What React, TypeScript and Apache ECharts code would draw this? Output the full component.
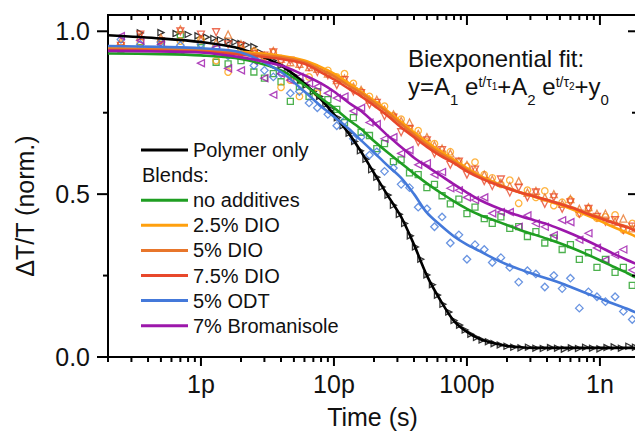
import React, { useEffect, useRef } from 'react';
import * as echarts from 'echarts';

const FONT = '"Liberation Sans", Arial, Helvetica, sans-serif';

// ---- axes (time in ps) ----
const X_MIN = 0.2;
const X_MAX = 1900;
const Y_MIN = 0;
const Y_MAX = 1.05;
const xMajorTicks = [1, 10, 100, 1000];
const xTickLabels = ['1p', '10p', '100p', '1n'];
const xMinorTicks = [0.2, 0.3, 0.4, 0.5, 0.6, 0.7, 0.8, 0.9, 2, 3, 4, 5, 6, 7, 8, 9, 20, 30, 40, 50, 60, 70, 80, 90, 200, 300, 400, 500, 600, 700, 800, 900];
const yMajorTicks = [0, 0.5, 1.0];
const yTickLabels = ['0.0', '0.5', '1.0'];
const yMinorTicks = [0.25, 0.75];

// ---- series ----
const seriesNames = ['Polymer only', 'no additives', '2.5% DIO', '5% DIO', '7.5% DIO', '5% ODT', '7% Bromanisole'];
const seriesColors = ['#000000', '#1f9e22', '#ffa00e', '#e8762b', '#e8482b', '#4479da', '#9c17ab'];
const seriesSymbols = ['triangle', 'rect', 'circle', 'triangle', 'triangle', 'diamond', 'triangle'];
const seriesSymbolRotate = [-90, 0, 0, 0, 180, 0, 90];
const seriesSymbolSize = [6, 6, 6.5, 7, 7, 7.5, 7];

// measured delays (ps)
const polymerDelays = [0.35, 0.5, 0.65, 0.8, 0.95, 1.1, 1.25, 1.4, 1.6, 1.8, 2.0, 2.2, 2.5, 2.8, 3.1, 3.5, 4, 4.5, 5, 5.6, 6.2, 7, 7.8, 8.7, 9.6, 10.6, 11.7, 13, 14.3, 15.8, 17.4, 19.2, 21, 23, 25.5, 28, 31, 34, 37.5, 41, 45, 50, 55, 60, 66, 73, 80, 88, 97, 107, 118, 130, 145, 160, 178, 200, 225, 255, 290, 330, 375, 425, 480, 540, 610, 690, 780, 880, 1000, 1130, 1280, 1450, 1650, 1850];
const polymerPoints = [0.995, 0.996, 0.993, 0.99, 0.986, 0.982, 0.978, 0.974, 0.97, 0.967, 0.962, 0.958, 0.953, 0.935, 0.925, 0.91, 0.895, 0.88, 0.865, 0.85, 0.835, 0.815, 0.8, 0.775, 0.76, 0.735, 0.71, 0.687, 0.662, 0.633, 0.607, 0.575, 0.552, 0.522, 0.497, 0.466, 0.438, 0.41, 0.372, 0.338, 0.3, 0.252, 0.222, 0.19, 0.162, 0.138, 0.112, 0.098, 0.083, 0.07, 0.06, 0.052, 0.047, 0.041, 0.037, 0.033, 0.03, 0.028, 0.03, 0.027, 0.026, 0.029, 0.027, 0.024, 0.028, 0.026, 0.03, 0.027, 0.025, 0.029, 0.031, 0.027, 0.033, 0.03];

const delays = [0.25, 0.35, 0.5, 0.7, 1.0, 1.3, 1.6, 2.0, 2.5, 3.0, 3.5, 4.0, 4.7, 5.5, 6.5, 7.5, 9, 10.5, 12, 14, 16, 18.5, 21, 24, 28, 32, 37, 43, 50, 57, 65, 75, 87, 100, 115, 135, 155, 180, 210, 245, 285, 330, 385, 450, 520, 600, 700, 820, 950, 1100, 1300, 1500, 1750];
const noAdditivesPoints = [0.945, 0.95, 0.96, 0.99, 0.95, 0.905, 0.9, 0.91, 0.875, 0.856, 0.87, 0.845, 0.785, 0.83, 0.8, 0.815, 0.79, 0.76, 0.72, 0.735, 0.69, 0.68, 0.64, 0.655, 0.6, 0.605, 0.565, 0.56, 0.52, 0.53, 0.495, 0.47, 0.485, 0.44, 0.46, 0.425, 0.41, 0.43, 0.395, 0.4, 0.37, 0.385, 0.35, 0.365, 0.33, 0.345, 0.3, 0.32, 0.275, 0.3, 0.26, 0.275, 0.22];
const dio25Points = [0.96, 0.966, 0.972, 0.97, 0.975, 0.91, 0.875, 0.945, 0.939, 0.92, 0.935, 0.828, 0.85, 0.8, 0.86, 0.81, 0.88, 0.86, 0.87, 0.84, 0.815, 0.8, 0.775, 0.77, 0.74, 0.73, 0.7, 0.695, 0.66, 0.655, 0.625, 0.63, 0.6, 0.585, 0.598, 0.56, 0.55, 0.53, 0.543, 0.472, 0.512, 0.49, 0.51, 0.465, 0.475, 0.482, 0.44, 0.455, 0.426, 0.43, 0.436, 0.39, 0.41];
const dio5Points = [0.97, 0.985, 0.98, 1.006, 0.975, 0.965, 0.99, 0.96, 0.94, 0.925, 0.94, 0.915, 0.905, 0.9, 0.89, 0.885, 0.87, 0.85, 0.855, 0.83, 0.82, 0.79, 0.79, 0.76, 0.745, 0.725, 0.72, 0.685, 0.675, 0.65, 0.64, 0.625, 0.6, 0.59, 0.575, 0.56, 0.545, 0.535, 0.525, 0.54, 0.505, 0.51, 0.49, 0.5, 0.47, 0.485, 0.455, 0.46, 0.44, 0.44, 0.415, 0.425, 0.395];
const dio75Points = [0.955, 0.99, 0.97, 1.0, 0.99, 0.997, 0.96, 0.955, 0.93, 0.925, 0.935, 0.905, 0.91, 0.895, 0.89, 0.875, 0.865, 0.835, 0.85, 0.815, 0.81, 0.775, 0.78, 0.74, 0.735, 0.69, 0.7, 0.66, 0.665, 0.625, 0.635, 0.59, 0.6, 0.56, 0.575, 0.54, 0.525, 0.545, 0.505, 0.52, 0.49, 0.505, 0.47, 0.49, 0.455, 0.475, 0.44, 0.455, 0.43, 0.415, 0.42, 0.39, 0.4];
const odtPoints = [0.975, 0.96, 0.966, 0.957, 0.96, 0.95, 0.925, 0.93, 0.895, 0.88, 0.86, 0.87, 0.81, 0.815, 0.78, 0.765, 0.745, 0.71, 0.725, 0.67, 0.675, 0.62, 0.63, 0.57, 0.58, 0.53, 0.52, 0.46, 0.455, 0.4, 0.43, 0.35, 0.375, 0.3, 0.345, 0.33, 0.29, 0.305, 0.275, 0.23, 0.265, 0.255, 0.215, 0.25, 0.21, 0.242, 0.15, 0.2, 0.185, 0.17, 0.185, 0.14, 0.115];
const bromanisolePoints = [0.985, 0.972, 0.96, 0.94, 0.902, 0.95, 0.886, 0.88, 0.91, 0.856, 0.805, 0.87, 0.85, 0.86, 0.84, 0.83, 0.81, 0.795, 0.8, 0.755, 0.765, 0.72, 0.715, 0.67, 0.675, 0.625, 0.635, 0.59, 0.595, 0.56, 0.568, 0.518, 0.512, 0.49, 0.482, 0.49, 0.441, 0.445, 0.445, 0.4, 0.435, 0.41, 0.4, 0.374, 0.42, 0.414, 0.36, 0.38, 0.335, 0.298, 0.313, 0.33, 0.267];

// biexponential fit curves, read at these times (ps)
const fitTimes = [0.2, 0.5, 1, 2, 4, 6, 8, 10, 13, 16, 20, 25, 32, 40, 50, 63, 80, 100, 125, 160, 200, 250, 320, 400, 500, 630, 800, 1000, 1250, 1600, 1900];
const polymerFit = [0.988, 0.978, 0.967, 0.946, 0.895, 0.84, 0.79, 0.745, 0.685, 0.63, 0.565, 0.5, 0.43, 0.345, 0.25, 0.175, 0.11, 0.077, 0.055, 0.042, 0.034, 0.03, 0.028, 0.028, 0.028, 0.028, 0.028, 0.028, 0.028, 0.028, 0.028];
const noAdditivesFit = [0.932, 0.93, 0.926, 0.915, 0.88, 0.835, 0.795, 0.765, 0.727, 0.7, 0.663, 0.63, 0.595, 0.563, 0.533, 0.505, 0.478, 0.455, 0.436, 0.42, 0.405, 0.39, 0.376, 0.363, 0.349, 0.333, 0.315, 0.297, 0.278, 0.258, 0.242];
const dio25Fit = [0.948, 0.946, 0.944, 0.937, 0.925, 0.91, 0.89, 0.87, 0.84, 0.815, 0.787, 0.757, 0.722, 0.69, 0.66, 0.632, 0.605, 0.58, 0.557, 0.537, 0.52, 0.505, 0.492, 0.48, 0.467, 0.452, 0.435, 0.418, 0.4, 0.382, 0.368];
const dio5Fit = [0.946, 0.944, 0.941, 0.933, 0.92, 0.905, 0.882, 0.862, 0.832, 0.81, 0.781, 0.752, 0.715, 0.683, 0.652, 0.625, 0.6, 0.575, 0.553, 0.534, 0.52, 0.506, 0.494, 0.483, 0.471, 0.458, 0.442, 0.428, 0.414, 0.4, 0.388];
const dio75Fit = [0.942, 0.94, 0.937, 0.928, 0.915, 0.9, 0.874, 0.852, 0.823, 0.8, 0.772, 0.742, 0.705, 0.675, 0.645, 0.618, 0.595, 0.57, 0.55, 0.532, 0.518, 0.505, 0.493, 0.482, 0.47, 0.457, 0.44, 0.426, 0.412, 0.398, 0.385];
const odtFit = [0.955, 0.952, 0.948, 0.935, 0.875, 0.815, 0.77, 0.738, 0.7, 0.665, 0.628, 0.59, 0.55, 0.5, 0.443, 0.405, 0.37, 0.345, 0.325, 0.302, 0.284, 0.269, 0.254, 0.241, 0.228, 0.212, 0.195, 0.18, 0.164, 0.148, 0.135];
const bromanisoleFit = [0.94, 0.938, 0.935, 0.92, 0.895, 0.865, 0.84, 0.815, 0.78, 0.755, 0.72, 0.682, 0.645, 0.612, 0.585, 0.558, 0.53, 0.505, 0.482, 0.462, 0.447, 0.433, 0.42, 0.408, 0.393, 0.376, 0.357, 0.338, 0.318, 0.298, 0.285];

const pointSets = [
  [polymerDelays, polymerPoints],
  [delays, noAdditivesPoints],
  [delays, dio25Points],
  [delays, dio5Points],
  [delays, dio75Points],
  [delays, odtPoints],
  [delays, bromanisolePoints],
];
const fitSets = [polymerFit, noAdditivesFit, dio25Fit, dio5Fit, dio75Fit, odtFit, bromanisoleFit];

const legendTitle = 'Blends:';
const fitTitle = 'Biexponential fit:';
const fitFormula = '{m|y=A}{sb|1}{m| e}{sp|t/τ}{ss|1}{m|+A}{sb|2}{m| e}{sp|t/τ}{ss|2}{m|+y}{sb|0}';

function buildOption() {
  const scatterSeries = pointSets.map(([xs, ys], i) => ({
    type: 'scatter',
    name: seriesNames[i] + ' data',
    data: xs.map((t, k) => [t, ys[k]]),
    symbol: seriesSymbols[i],
    symbolRotate: seriesSymbolRotate[i],
    symbolSize: seriesSymbolSize[i],
    itemStyle: { color: 'rgba(0,0,0,0)', borderColor: seriesColors[i], borderWidth: 1.3 },
    z: 2,
    silent: true,
  }));
  const fitSeries = fitSets.map((vals, i) => ({
    type: 'line',
    name: seriesNames[i],
    data: fitTimes.map((t, k) => [t, vals[k]]),
    showSymbol: false,
    symbol: 'none',
    smooth: 0.3,
    lineStyle: { color: seriesColors[i], width: 2.6 },
    z: 3,
    silent: true,
  }));
  const tickSeries = {
    type: 'custom',
    data: [[1, 0.5]],
    clip: false,
    silent: true,
    z: 5,
    renderItem: (_p: any, api: any) => {
      const children: any[] = [];
      const st = { stroke: '#000', lineWidth: 2 };
      const [xl, yb] = api.coord([X_MIN, Y_MIN]);
      const [xr, yt] = api.coord([X_MAX, Y_MAX]);
      const add = (x1: number, y1: number, x2: number, y2: number) =>
        children.push({ type: 'line', shape: { x1, y1, x2, y2 }, style: st });
      xMajorTicks.forEach((t) => {
        const x = api.coord([t, Y_MIN])[0];
        add(x, yb, x, yb + 9);
        add(x, yt, x, yt + 10);
      });
      xMinorTicks.forEach((t) => {
        const x = api.coord([t, Y_MIN])[0];
        add(x, yb, x, yb + 5);
        add(x, yt, x, yt + 5);
      });
      yMajorTicks.forEach((v) => {
        const y = api.coord([X_MIN, v])[1];
        add(xl - 11, y, xl, y);
        add(xr - 9, y, xr, y);
      });
      yMinorTicks.forEach((v) => {
        const y = api.coord([X_MIN, v])[1];
        add(xl - 5, y, xl, y);
        add(xr - 5, y, xr, y);
      });
      return { type: 'group', children };
    },
  };

  const legendX1 = 141;
  const legendX2 = 188;
  const rowY = (r: number) => 150 + r * 25.1;
  const legendEls: any[] = [];
  const rows = [seriesNames[0], legendTitle, ...seriesNames.slice(1)];
  rows.forEach((label, r) => {
    const y = rowY(r);
    const si = seriesNames.indexOf(label);
    if (si >= 0) {
      legendEls.push({
        type: 'line',
        shape: { x1: legendX1, y1: y, x2: legendX2, y2: y },
        style: { stroke: seriesColors[si], lineWidth: 3 },
      });
    }
    legendEls.push({
      type: 'text',
      x: si >= 0 ? 193 : 142,
      y,
      style: { text: label, fontSize: 20, fontFamily: FONT, fill: '#111', align: 'left', verticalAlign: 'middle' },
    });
  });

  return {
    animation: false,
    backgroundColor: '#fff',
    textStyle: { fontFamily: FONT },
    grid: {
      left: 108,
      top: 15,
      right: -2,
      bottom: 75,
      show: true,
      borderColor: '#000',
      borderWidth: 2,
      backgroundColor: 'transparent',
      containLabel: false,
      outerBoundsMode: 'none',
    },
    xAxis: {
      type: 'log',
      logBase: 10,
      min: X_MIN,
      max: X_MAX,
      name: 'Time (s)',
      nameLocation: 'middle',
      nameGap: 47,
      nameMoveOverlap: false,
      nameTextStyle: { fontSize: 25, color: '#111', fontFamily: FONT },
      axisLine: { show: false },
      axisTick: { show: false },
      splitLine: { show: false },
      minorTick: { show: false },
      axisLabel: {
        margin: 14,
        fontSize: 25,
        color: '#111',
        fontFamily: FONT,
        showMinLabel: false,
        showMaxLabel: false,
        formatter: (v: number) => {
          const i = xMajorTicks.findIndex((t) => Math.abs(t - v) / t < 1e-6);
          return i >= 0 ? xTickLabels[i] : '';
        },
      },
    },
    yAxis: {
      type: 'value',
      min: Y_MIN,
      max: Y_MAX,
      interval: 0.5,
      axisLine: { show: false },
      axisTick: { show: false },
      splitLine: { show: false },
      axisLabel: {
        margin: 18,
        fontSize: 25,
        color: '#111',
        fontFamily: FONT,
        formatter: (v: number) => {
          const i = yMajorTicks.findIndex((t) => Math.abs(t - v) < 1e-6);
          return i >= 0 ? yTickLabels[i] : '';
        },
      },
    },
    graphic: {
      elements: [
        ...legendEls,
        {
          type: 'text',
          x: 25,
          y: 206,
          rotation: Math.PI / 2,
          style: { text: 'ΔT/T (norm.)', fontSize: 25, fontFamily: FONT, fill: '#111', align: 'center', verticalAlign: 'middle' },
        },
        {
          type: 'text',
          x: 408,
          y: 58,
          style: { text: fitTitle, fontSize: 24, fontFamily: FONT, fill: '#111', align: 'left', verticalAlign: 'middle' },
        },
        {
          type: 'text',
          x: 408,
          y: 69,
          style: {
            text: fitFormula,
            fontFamily: FONT,
            fill: '#111',
            align: 'left',
            verticalAlign: 'top',
            rich: {
              m: { fontSize: 24, fontFamily: FONT, fill: '#111', verticalAlign: 'top', padding: [5, 0, 0, 0] },
              sb: { fontSize: 15, fontFamily: FONT, fill: '#111', verticalAlign: 'top', padding: [23, 0, 0, 0] },
              sp: { fontSize: 14, fontFamily: FONT, fill: '#111', verticalAlign: 'top', padding: [6, 0, 0, 0] },
              ss: { fontSize: 10, fontFamily: FONT, fill: '#111', verticalAlign: 'top', padding: [12, 0, 0, 0] },
            },
          },
        },
      ],
    },
    series: [...scatterSeries, ...fitSeries, tickSeries],
  };
}

export default function App() {
  const ref = useRef<HTMLDivElement>(null);
  useEffect(() => {
    if (!ref.current) return;
    const chart = echarts.init(ref.current, null, { renderer: 'svg' });
    chart.setOption(buildOption() as any);
    return () => chart.dispose();
  }, []);
  return (
    <div
      ref={ref}
      style={{ position: 'fixed', left: 0, top: 0, width: 635, height: 432, background: '#fff' }}
    />
  );
}
